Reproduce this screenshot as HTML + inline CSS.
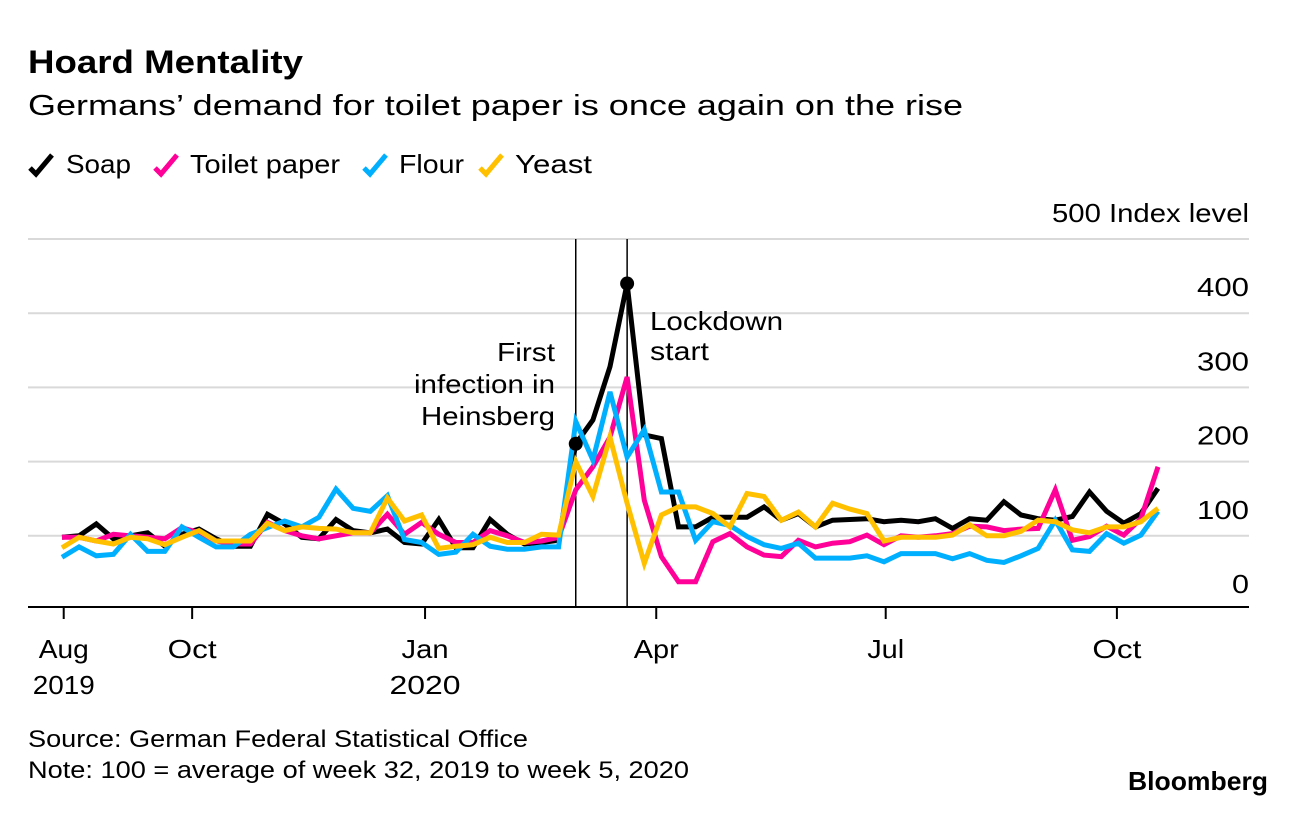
<!DOCTYPE html>
<html><head><meta charset="utf-8"><style>
body{margin:0;background:#fff;width:1296px;height:808px;overflow:hidden;font-family:"Liberation Sans",sans-serif}
svg text{font-family:"Liberation Sans",sans-serif}
</style></head><body>
<svg id="chart" width="1296" height="808" xmlns="http://www.w3.org/2000/svg">
<text x="28" y="73" font-size="32" font-weight="bold" fill="#000" textLength="275" lengthAdjust="spacingAndGlyphs">Hoard Mentality</text>
<text x="28" y="115" font-size="29" fill="#000" textLength="935" lengthAdjust="spacingAndGlyphs">Germans’ demand for toilet paper is once again on the rise</text>
<g id="legend"></g>
<g id="grid"></g>
<g id="annot"></g>
<g id="series"></g>
<g id="xaxis"></g>
<text x="28" y="747" font-size="24" fill="#000" textLength="500" lengthAdjust="spacingAndGlyphs">Source: German Federal Statistical Office</text>
<text x="28" y="778" font-size="24" fill="#000" textLength="661" lengthAdjust="spacingAndGlyphs">Note: 100 = average of week 32, 2019 to week 5, 2020</text>
<text x="1128" y="790" font-size="26" font-weight="bold" fill="#000" textLength="140" lengthAdjust="spacingAndGlyphs">Bloomberg</text>
</svg>
<script>
const soap=[98,100,116,96,100,104,86,102,109,96,86,86,129,116,98,96,122,107,104,109,91,89,122,84,84,122,102,89,91,94,224,256,328,440,236,231,112,112,125,125,125,139,121,130,112,121,122,123,119,121,119,123,110,123,121,146,128,123,121,126,159,133,117,130,164];
const toiletPaper=[98,98,93,102,100,98,96,111,104,93,89,89,118,107,100,96,100,104,104,129,102,118,102,91,91,107,100,91,93,98,162,193,233,314,148,72,38,38,92,103,85,74,72,94,85,90,92,101,88,100,98,100,103,113,112,107,109,110,162,94,99,113,101,123,193];
const flour=[71,85,73,75,102,79,79,112,98,85,85,102,111,120,112,125,163,137,133,154,95,91,75,78,102,86,82,82,85,85,254,202,294,206,243,159,159,94,119,114,99,88,83,90,70,70,70,73,65,76,76,76,69,76,67,64,73,83,121,81,79,103,90,101,133];
const yeast=[84,98,93,89,98,96,88,98,107,93,93,93,117,107,112,110,109,104,104,151,120,128,83,86,88,98,91,91,102,101,200,153,233,144,63,128,139,139,130,112,157,153,121,132,112,144,136,130,93,98,98,98,101,115,100,100,106,121,119,108,104,112,112,119,137];
const yTicks=[0,100,200,300,400,500];
const xTickIdx=[0.1,7.6,21.2,34.7,48.1,61.6];
const xTickLabels=[["Aug","2019"],["Oct",""],["Jan","2020"],["Apr",""],["Jul",""],["Oct",""]];
const eventIdx=[30,33];
const seriesNames=["Soap","Toilet paper","Flour","Yeast"];
const colors=["#000000","#ff0099","#00b0ff","#ffc000"];
const NS="http://www.w3.org/2000/svg";
const x=i=>62+i*17.125;
const y=v=>610-v*0.742;
function mk(tag,attrs,parent){const e=document.createElementNS(NS,tag);for(const k in attrs)e.setAttribute(k,attrs[k]);parent.appendChild(e);return e;}
const grid=document.getElementById('grid');
yTicks.forEach(t=>{
  if(t>0){const l=mk('line',{x1:28,x2:1249,y1:y(t),y2:y(t),stroke:'#d9d9d9','stroke-width':2},grid);
  
  }
  const lbl=t===500?'500 Index level':String(t);
  const tx=mk('text',{x:1249,y:y(t)-17,'font-size':26,'text-anchor':'end',fill:'#000',textLength:t===500?197:(t===0?17:52),lengthAdjust:'spacingAndGlyphs'},grid);
  tx.textContent=lbl;
  
  
});
const xa=document.getElementById('xaxis');
const ax=mk('line',{x1:28,x2:1249,y1:607,y2:607,stroke:'#000','stroke-width':2},xa);


const lblW={"Aug":50,"2019":62,"Oct":49,"Jan":47,"2020":71,"Apr":45,"Jul":37};
xTickIdx.forEach((ti,k)=>{
  const tk=mk('line',{x1:x(ti),x2:x(ti),y1:607,y2:619,stroke:'#000','stroke-width':2},xa);
  
  
  xTickLabels[k].forEach((s,j)=>{if(!s)return;
    const t=mk('text',{x:x(ti),y:658+j*36,'font-size':26,'text-anchor':'middle',fill:'#000',textLength:lblW[s],lengthAdjust:'spacingAndGlyphs'},xa);
    t.textContent=s;
    
    });
});
const an=document.getElementById('annot');
eventIdx.forEach(ei=>{const l=mk('line',{x1:x(ei),x2:x(ei),y1:239,y2:607,stroke:'#000','stroke-width':1.5},an);
  
  });
[["First",361,58],["infection in",393,141],["Heinsberg",425,134]].forEach(([s,yy,w])=>{const t=mk('text',{x:555,y:yy,'font-size':26,'text-anchor':'end',fill:'#000',textLength:w,lengthAdjust:'spacingAndGlyphs'},an);t.textContent=s;
  
  });
[["Lockdown",330,133],["start",360,59]].forEach(([s,yy,w])=>{const t=mk('text',{x:650,y:yy,'font-size':26,fill:'#000',textLength:w,lengthAdjust:'spacingAndGlyphs'},an);t.textContent=s;
  
  });
const sg=document.getElementById('series');
const all=[soap,toiletPaper,flour,yeast];
[0,1,2,3].forEach(k=>{
  const d=all[k].map((v,i)=>(i?'L':'M')+x(i).toFixed(1)+','+y(v).toFixed(1)).join('');
  const p=mk('path',{d:d,fill:'none',stroke:colors[k],'stroke-width':5,'stroke-linejoin':'miter'},sg);
  
  
});
eventIdx.forEach(ei=>{const c=mk('circle',{cx:x(ei),cy:y(soap[ei]),r:7,fill:'#000'},an.parentNode);
  
  });
const lg=document.getElementById('legend');
const lx=[30,155,364,480];
const tx0=[66,190,399,515];
const tw=[65,150,65,77];
seriesNames.forEach((n,k)=>{
  const g=mk('g',{},lg);
  
  
  mk('path',{d:`M${lx[k]},168L${lx[k]+6},174L${lx[k]+22},155`,fill:'none',stroke:colors[k],'stroke-width':5},g);
  const t=mk('text',{x:tx0[k],y:173,'font-size':26,fill:'#000',textLength:tw[k],lengthAdjust:'spacingAndGlyphs'},g);t.textContent=n;
});
</script>
</body></html>
